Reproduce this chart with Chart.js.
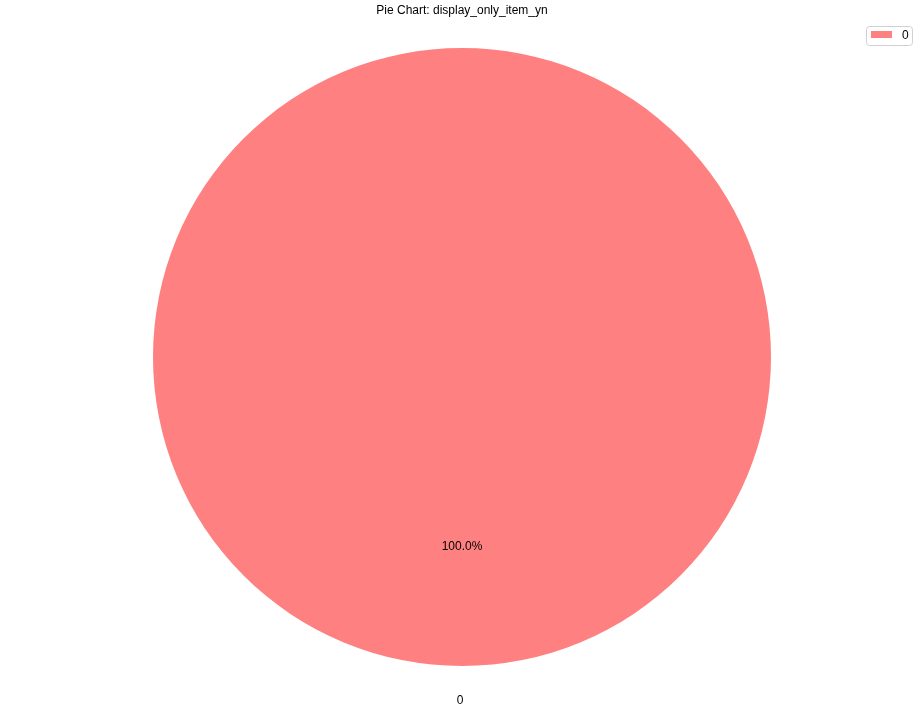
<!DOCTYPE html>
<html>
<head>
<meta charset="utf-8">
<script src="https://cdn.jsdelivr.net/npm/chart.js@4"></script>
<style>
    html, body { margin: 0; padding: 0; background: #fff; }
    #wrap { width: 924px; height: 711px; }
</style>
</head>
<body>
<div id="wrap"><canvas id="chartPie" width="924" height="711"></canvas></div>
<script>
    const TITLE = 'Pie Chart: display_only_item_yn';
    const LABELS = ['0'];
    const VALUES = [1];
    const COLORS = ['#ff8080'];
    const FONT = '"Liberation Sans", Arial, sans-serif';

    // title, percent / category labels and the boxed legend, drawn like matplotlib
    const decor = {
        id: 'decor',
        afterDraw(chart) {
            const ctx = chart.ctx;
            const meta = chart.getDatasetMeta(0);
            const total = VALUES.reduce((a, b) => a + b, 0);
            ctx.save();
            ctx.font = '12px ' + FONT;
            ctx.fillStyle = '#000';
            ctx.textAlign = 'center';
            ctx.textBaseline = 'middle';
            ctx.fillText(TITLE, chart.width / 2, 11);

            meta.data.forEach((arc, i) => {
                const p = arc.getProps(['x', 'y', 'startAngle', 'endAngle', 'outerRadius'], true);
                const mid = (p.startAngle + p.endAngle) / 2;
                const pct = (VALUES[i] / total * 100).toFixed(1) + '%';
                ctx.fillText(pct, p.x + Math.cos(mid) * p.outerRadius * 0.6, p.y + 4 + Math.sin(mid) * p.outerRadius * 0.6);
                ctx.fillText(LABELS[i], p.x - 2 + Math.cos(mid) * p.outerRadius * 1.1, p.y + 4 + Math.sin(mid) * p.outerRadius * 1.1);
            });

            // legend box
            const bx = 866.5, by = 26.5, bw = 46, bh = 19;
            ctx.strokeStyle = '#d0d0d0';
            ctx.lineWidth = 1;
            ctx.beginPath();
            ctx.roundRect(bx, by, bw, bh, 3);
            ctx.fillStyle = 'rgba(255,255,255,0.8)';
            ctx.fill();
            ctx.stroke();
            LABELS.forEach((lab, i) => {
                ctx.fillStyle = COLORS[i];
                ctx.fillRect(871, 31 + i * 18, 21, 7);
                ctx.fillStyle = '#000';
                ctx.textAlign = 'left';
                ctx.fillText(lab, 902, 35.5 + i * 18);
            });
            ctx.restore();
        }
    };

    new Chart(document.getElementById('chartPie'), {
        type: 'pie',
        data: {
            labels: LABELS,
            datasets: [{
                data: VALUES,
                backgroundColor: COLORS,
                borderWidth: 0
            }]
        },
        options: {
            responsive: false,
            animation: false,
            layout: { padding: { top: 48, bottom: 45, left: 0, right: 0 } },
            plugins: {
                legend: { display: false },
                title: { display: false },
                tooltip: { enabled: false }
            }
        },
        plugins: [decor]
    });
</script>
</body>
</html>
